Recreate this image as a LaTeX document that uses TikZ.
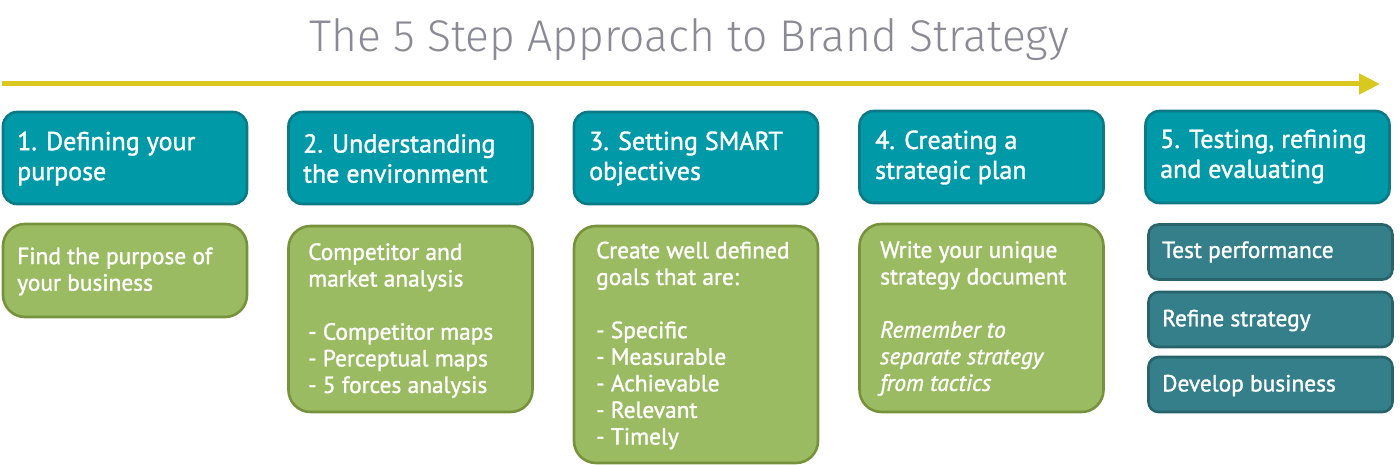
\documentclass[tikz,border=0pt]{standalone}
\usepackage{fontspec}
\setmainfont[FakeBold=1.3]{PT Sans}
\newfontfamily\titlefont{Fira Sans Light}
\usetikzlibrary{arrows.meta}
\definecolor{headfill}{HTML}{0099A8}
\definecolor{headline}{HTML}{0B7A86}
\definecolor{greenfill}{HTML}{9BBB62}
\definecolor{greenline}{HTML}{76923C}
\definecolor{subfill}{HTML}{347F89}
\definecolor{subline}{HTML}{28636B}
\definecolor{arrowyellow}{HTML}{D9C81F}
\definecolor{titlegray}{HTML}{8A8A96}
\tikzset{
  x=1pt, y=-1pt,
  box/.style={line width=2.6pt, rounded corners=14pt, minimum width=244pt, inner sep=0pt},
  headbox/.style={box, draw=headline, fill=headfill, minimum height=92pt},
  greenbox/.style={box, draw=greenline, fill=greenfill, rounded corners=22pt},
  subbox/.style={box, draw=subline, fill=subfill, rounded corners=10pt, minimum height=55pt},
  headtxt/.style={anchor=west, align=left, text=white, inner sep=0pt, font=\fontsize{26}{30}\selectfont},
  bodytxt/.style={anchor=west, align=left, text=white, inner sep=0pt, font=\fontsize{23.4}{26.6}\selectfont},
}
\begin{document}
\begin{tikzpicture}
\useasboundingbox (0,0) rectangle (1400,465);
% title
\node[text=titlegray, font=\titlefont\fontsize{44.4}{50}\selectfont, inner sep=0pt] (title) at (689,40) {The 5 Step Approach to Brand Strategy};
% arrow
\coordinate (arrowstart) at (2,84);
\coordinate (arrowend) at (1380,84);
\draw[arrowyellow, line width=5pt, -{Triangle[length=21pt,width=20pt]}] (arrowstart) -- (arrowend);
% headers
\node[headbox] (h1) at (125,158) {};
\node[headbox] (h2) at (410.5,158) {};
\node[headbox] (h3) at (696,158) {};
\node[headbox] (h4) at (981.5,157) {};
\node[headbox] (h5) at (1267.5,157) {};
\node[headtxt] (h1t) at (17,158.5) {1. Defining your\\purpose};
\node[headtxt] (h2t) at (303,158.5) {2. Understanding\\the environment};
\node[headtxt] (h3t) at (589,158.5) {3. Setting SMART\\objectives};
\node[headtxt] (h4t) at (875,157.5) {4. Creating a\\strategic plan};
\node[headtxt] (h5t) at (1160,156.5) {5. Testing, refining\\and evaluating};
% bodies
\node[greenbox, minimum height=93pt] (b1) at (125,270.5) {};
\node[greenbox, minimum height=186pt] (b2) at (410.5,319) {};
\node[greenbox, minimum height=237pt] (b3) at (696,344.5) {};
\node[greenbox, minimum height=188pt] (b4) at (981.5,318) {};
\node[bodytxt] (b1t) at (17,271.5) {Find the purpose of\\your business};
\node[bodytxt] (b2t) at (308,320.5) {Competitor and\\market analysis\\[26.6pt]- Competitor maps\\- Perceptual maps\\- 5 forces analysis};
\node[bodytxt] (b3t) at (596,345.5) {Create well defined\\goals that are:\\[26.6pt]- Specific\\- Measurable\\- Achievable\\- Relevant\\- Timely};
\node[bodytxt] (b4t) at (880,318.5) {Write your unique\\strategy document\\[26.6pt]\textit{Remember to}\\\textit{separate strategy}\\\textit{from tactics}};
% step 5 sub boxes
\node[subbox] (s1) at (1270.5,252) {};
\node[subbox] (s2) at (1270.5,319.5) {};
\node[subbox] (s3) at (1270.5,384.5) {};
\node[bodytxt] (s1t) at (1162,252) {Test performance};
\node[bodytxt] (s2t) at (1162,320.5) {Refine strategy};
\node[bodytxt] (s3t) at (1162,385.5) {Develop business};
\end{tikzpicture}
\end{document}
